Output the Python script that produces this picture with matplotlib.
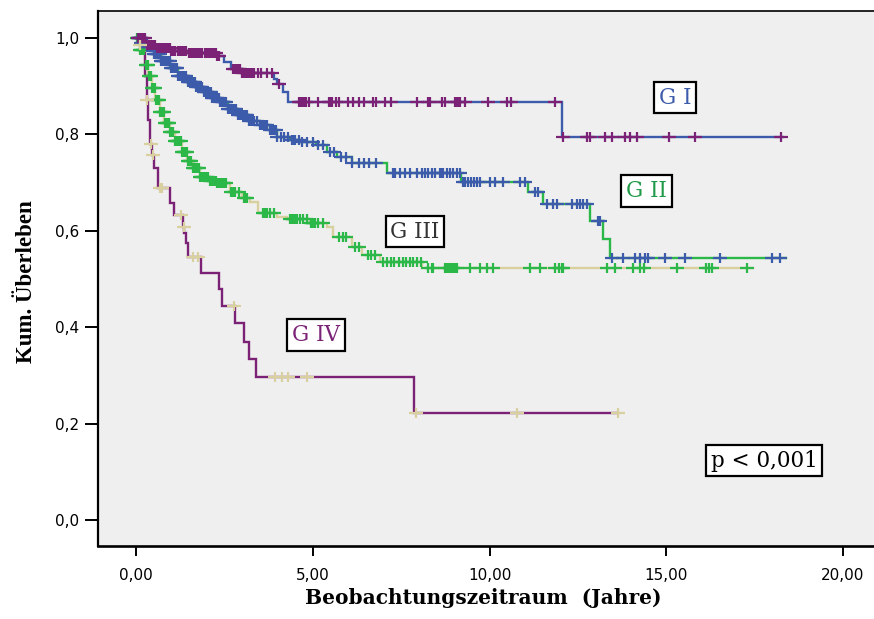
import numpy as np
import matplotlib
matplotlib.use("Agg")
import matplotlib.pyplot as plt
from matplotlib.path import Path

# ---------------- data ----------------
# G I  (blue line, purple censor marks)
g1_times = [0, 0.3, 0.6, 1.0, 1.5, 2.3, 2.5, 2.7, 3.0, 3.9, 4.0, 4.15, 4.3, 12.05]
g1_surv = [1.0, 0.985, 0.978, 0.972, 0.968, 0.962, 0.95, 0.935, 0.926, 0.915, 0.903, 0.887, 0.867, 0.794]
g1_end = 18.3
g1_censor = [0.05, 0.1, 0.15, 0.2, 0.25, 0.3, 0.35, 0.4, 0.45, 0.5, 0.55, 0.6, 0.65, 0.7, 0.76,
             0.8, 0.86, 0.9, 0.95, 1.0, 1.05, 1.1, 1.18, 1.25, 1.3, 1.35, 1.42, 1.5, 1.55, 1.6,
             1.66, 1.7, 1.75, 1.8, 1.87, 1.95, 2.0, 2.05, 2.1, 2.15, 2.2, 2.25, 2.3, 2.35, 2.75,
             2.8, 2.85, 2.92, 2.95, 3.0, 3.05, 3.1, 3.15, 3.2, 3.25, 3.3, 3.35, 3.45, 3.55, 3.7,
             3.85, 4.05, 4.6, 4.65, 4.7, 4.75, 4.8, 4.9, 5.15, 5.45, 5.5, 5.55, 5.65, 5.75, 6.0,
             6.15, 6.3, 6.45, 6.7, 6.8, 7.05, 7.2, 7.95, 8.25, 8.32, 8.65, 8.75, 9.02, 9.07,
             9.12, 9.17, 9.3, 9.95, 10.5, 10.6, 11.85, 12.08, 12.75, 12.84, 13.26, 13.46, 13.83,
             13.97, 14.17, 15.08, 15.81, 18.25]

# G II (green line, blue censor marks)
g2_times = [0, 0.15, 0.3, 0.5, 0.7, 0.96, 1.2, 1.44, 1.7, 1.9, 2.15, 2.38, 2.6, 2.86, 3.2,
            3.5, 3.8, 4.0, 4.36, 4.64, 5.1, 5.4, 5.69, 6.1, 7.1, 9.2, 11.1, 11.5, 12.84, 13.2, 13.4]
g2_surv = [1.0, 0.99, 0.98, 0.966, 0.952, 0.937, 0.92, 0.908, 0.897, 0.887, 0.876, 0.866,
           0.853, 0.839, 0.828, 0.819, 0.808, 0.795, 0.788, 0.783, 0.777, 0.763, 0.752, 0.74,
           0.72, 0.70, 0.68, 0.656, 0.62, 0.583, 0.544]
g2_end = 18.4
g2_censor = [0.05, 0.08, 0.12, 0.15, 0.18, 0.2, 0.23, 0.26, 0.3, 0.33, 0.36, 0.38, 0.42, 0.45,
             0.48, 0.5, 0.53, 0.56, 0.59, 0.62, 0.65, 0.68, 0.71, 0.73, 0.77, 0.8, 0.83, 0.86,
             0.89, 0.92, 0.95, 0.98, 1.01, 1.04, 1.07, 1.1, 1.14, 1.17, 1.2, 1.23, 1.27, 1.3,
             1.33, 1.36, 1.39, 1.42, 1.46, 1.5, 1.54, 1.57, 1.6, 1.63, 1.67, 1.7, 1.74, 1.78,
             1.82, 1.85, 1.88, 1.92, 1.96, 2.0, 2.04, 2.08, 2.12, 2.15, 2.19, 2.22, 2.26, 2.3,
             2.34, 2.38, 2.42, 2.45, 2.49, 2.52, 2.56, 2.6, 2.64, 2.68, 2.72, 2.75, 2.79, 2.83,
             2.88, 2.92, 2.96, 3.0, 3.04, 3.08, 3.12, 3.15, 3.2, 3.25, 3.3, 3.35, 3.42, 3.5,
             3.55, 3.6, 3.65, 3.7, 3.8, 3.85, 3.9, 3.95, 4.0, 4.1, 4.2, 4.3, 4.4, 4.45, 4.5,
             4.6, 4.7, 4.85, 5.0, 5.15, 5.3, 5.5, 5.6, 5.8, 5.95, 6.1, 6.3, 6.45, 6.6, 6.8,
             7.27, 7.33, 7.47, 7.61, 7.75, 7.95, 8.09, 8.18, 8.26, 8.37, 8.46, 8.6, 8.66, 8.69,
             8.8, 8.88, 8.97, 9.08, 9.17, 9.25, 9.32, 9.4, 9.48, 9.56, 9.65, 9.73, 10.0, 10.16,
             10.38, 10.86, 11.0, 11.29, 11.37, 11.63, 11.8, 11.9, 12.33, 12.48, 12.56, 12.65,
             12.76, 13.07, 13.13, 13.47, 13.78, 14.12, 14.26, 14.4, 14.48, 14.96, 15.53, 16.52,
             17.99, 18.22]

# G III (beige line, green censor marks)
g3_times = [0, 0.1, 0.25, 0.35, 0.45, 0.55, 0.68, 0.8, 0.96, 1.1, 1.3, 1.44, 1.6, 1.81, 2.05,
            2.29, 2.66, 3.0, 3.22, 3.45, 4.0, 4.27, 4.92, 5.4, 5.57, 6.1, 6.4, 6.9, 8.1]
g3_surv = [1.0, 0.975, 0.943, 0.92, 0.895, 0.87, 0.846, 0.823, 0.804, 0.785, 0.763, 0.745,
           0.73, 0.711, 0.703, 0.698, 0.68, 0.668, 0.659, 0.636, 0.628, 0.624, 0.615, 0.607,
           0.587, 0.566, 0.549, 0.535, 0.522]
g3_end = 17.45
g3_censor = [0.03, 0.06, 0.09, 0.12, 0.15, 0.18, 0.21, 0.24, 0.27, 0.3, 0.33, 0.36, 0.39, 0.42,
             0.45, 0.48, 0.51, 0.54, 0.57, 0.6, 0.63, 0.66, 0.69, 0.72, 0.75, 0.78, 0.82, 0.85,
             0.88, 0.9, 0.94, 0.97, 1.0, 1.03, 1.06, 1.1, 1.13, 1.16, 1.19, 1.22, 1.26, 1.3,
             1.33, 1.36, 1.4, 1.43, 1.47, 1.5, 1.53, 1.56, 1.6, 1.63, 1.67, 1.7, 1.74, 1.77,
             1.81, 1.85, 1.88, 1.92, 1.96, 2.0, 2.04, 2.08, 2.12, 2.17, 2.21, 2.25, 2.3, 2.35,
             2.4, 2.45, 2.5, 2.55, 2.7, 2.75, 2.8, 2.9, 3.05, 3.1, 3.15, 3.6, 3.65, 3.7, 3.78,
             3.9, 4.35, 4.4, 4.45, 4.5, 4.55, 4.65, 4.72, 4.85, 4.95, 4.98, 5.0, 5.02, 5.05,
             5.15, 5.3, 5.75, 5.85, 5.95, 6.2, 6.3, 6.55, 6.65, 6.75, 7.0, 7.1, 7.2, 7.3, 7.45,
             7.55, 7.65, 7.75, 7.85, 7.95, 8.05, 8.25, 8.36, 8.39, 8.74, 8.8, 8.85, 8.88, 8.93,
             8.97, 9.02, 9.08, 9.45, 9.73, 9.93, 10.1, 11.14, 11.43, 11.85, 11.96, 12.05, 12.09,
             13.32, 13.55, 14.06, 14.26, 14.37, 15.3, 16.12, 16.2, 16.3, 17.28]

# G IV (purple line, beige censor marks)
g4_times = [0, 0.1, 0.2, 0.25, 0.3, 0.35, 0.4, 0.45, 0.52, 0.63, 0.96, 1.07, 1.33, 1.37, 1.41,
            1.47, 1.83, 2.35, 2.43, 2.8, 3.06, 3.2, 3.39, 7.87]
g4_surv = [1.0, 0.985, 0.968, 0.92, 0.87, 0.83, 0.78, 0.757, 0.73, 0.688, 0.657, 0.632, 0.607,
           0.595, 0.574, 0.545, 0.512, 0.479, 0.444, 0.408, 0.369, 0.334, 0.296, 0.222]
g4_end = 13.63
g4_censor = [0.12, 0.32, 0.42, 0.48, 0.68, 0.73, 1.28, 1.35, 1.62, 1.75, 2.78, 3.93, 4.13,
             4.3, 4.84, 7.92, 10.78, 13.63]

group_labels = ["G I", "G II", "G III", "G IV"]
p_text = "p < 0,001"
x_ticks = [0, 5, 10, 15, 20]
x_ticklabels = ["0,00", "5,00", "10,00", "15,00", "20,00"]
y_ticks = [0.0, 0.2, 0.4, 0.6, 0.8, 1.0]
y_ticklabels = ["0,0", "0,2", "0,4", "0,6", "0,8", "1,0"]

# ---------------- styles ----------------
BLUE = "#3d5bab"
PURPLE = "#7b2277"
GREEN = "#2cb848"
BEIGE = "#d8d09e"

# wide "+" censor marker (the reference is stretched horizontally)
PLUS = Path([(-1.0, 0.0), (1.0, 0.0), (0.0, -0.75), (0.0, 0.75)],
            [Path.MOVETO, Path.LINETO, Path.MOVETO, Path.LINETO])

fig = plt.figure(figsize=(8.74, 6.19), dpi=100)
W, H = 874, 619
ax = fig.add_axes([98 / W, (H - 546) / H, (W - 98) / W, (546 - 11) / H])
ax.set_facecolor("#efefef")

px_per_x = (843 - 136) / 20.0
px_per_y = (520 - 37.7) / 1.0
ax.set_xlim((98 - 136) / px_per_x, (W - 136) / px_per_x)
ax.set_ylim(-(546 - 520) / px_per_y, 1 + (37.7 - 11) / px_per_y)


def km(times, surv, end, censor, lcolor, mcolor, lz, mz):
    t = np.asarray(times, float)
    s = np.asarray(surv, float)
    tt = np.append(t, end)
    ss = np.append(s, s[-1])
    ax.step(tt, ss, where="post", color=lcolor, lw=1.7, zorder=lz, solid_joinstyle="miter")
    c = np.asarray(censor, float)
    idx = np.searchsorted(t, c, side="right") - 1
    ax.plot(c, s[idx], ls="none", marker=PLUS, ms=10, mew=1.6, color=mcolor, zorder=mz)


km(g3_times, g3_surv, g3_end, g3_censor, BEIGE, GREEN, 2.0, 3.0)
km(g2_times, g2_surv, g2_end, g2_censor, GREEN, BLUE, 2.1, 3.1)
km(g1_times, g1_surv, g1_end, g1_censor, BLUE, PURPLE, 2.2, 3.2)
km(g4_times, g4_surv, g4_end, g4_censor, PURPLE, BEIGE, 2.3, 3.3)

# boxed labels
box = dict(boxstyle="square,pad=0.22", fc="white", ec="black", lw=1.6)
label_colors = [BLUE, "#1f9a48", "#333333", PURPLE]
label_pos = [(15.26, 0.876), (14.44, 0.682), (7.89, 0.598), (5.09, 0.384)]
for txt, col, (lx, ly) in zip(group_labels, label_colors, label_pos):
    ax.text(lx, ly, txt, color=col, fontsize=15.5, family="DejaVu Serif",
            ha="center", va="center", bbox=box, zorder=5)
ax.text(17.77, 0.123, p_text, color="black", fontsize=15.5, family="DejaVu Serif",
        ha="center", va="center", bbox=box, zorder=5)

# axes styling
ax.spines["right"].set_visible(False)
ax.spines["left"].set_linewidth(1.6)
ax.spines["bottom"].set_linewidth(1.9)
ax.spines["top"].set_linewidth(1.2)

ax.set_xticks(x_ticks)
ax.set_xticklabels(x_ticklabels, family="DejaVu Sans", fontsize=11)
ax.set_yticks(y_ticks)
ax.set_yticklabels(y_ticklabels, family="DejaVu Sans", fontsize=11)
ax.tick_params(axis="y", length=9.5, width=1.4, pad=4)
ax.tick_params(axis="x", length=7.5, width=1.4, pad=8)

ax.set_xlabel("Beobachtungszeitraum  (Jahre)", family="DejaVu Serif", fontweight="bold",
              fontsize=14.5, va="center")
ax.xaxis.set_label_coords((483 - 98) / 776, (546 - 598) / 535)
ax.set_ylabel("Kum. Überleben", family="Liberation Serif", fontweight="bold",
              fontsize=16.5, va="center")
ax.yaxis.set_label_coords((27 - 98) / 776, (546 - 282) / 535)

fig.savefig("out.png", dpi=100, facecolor="white")
